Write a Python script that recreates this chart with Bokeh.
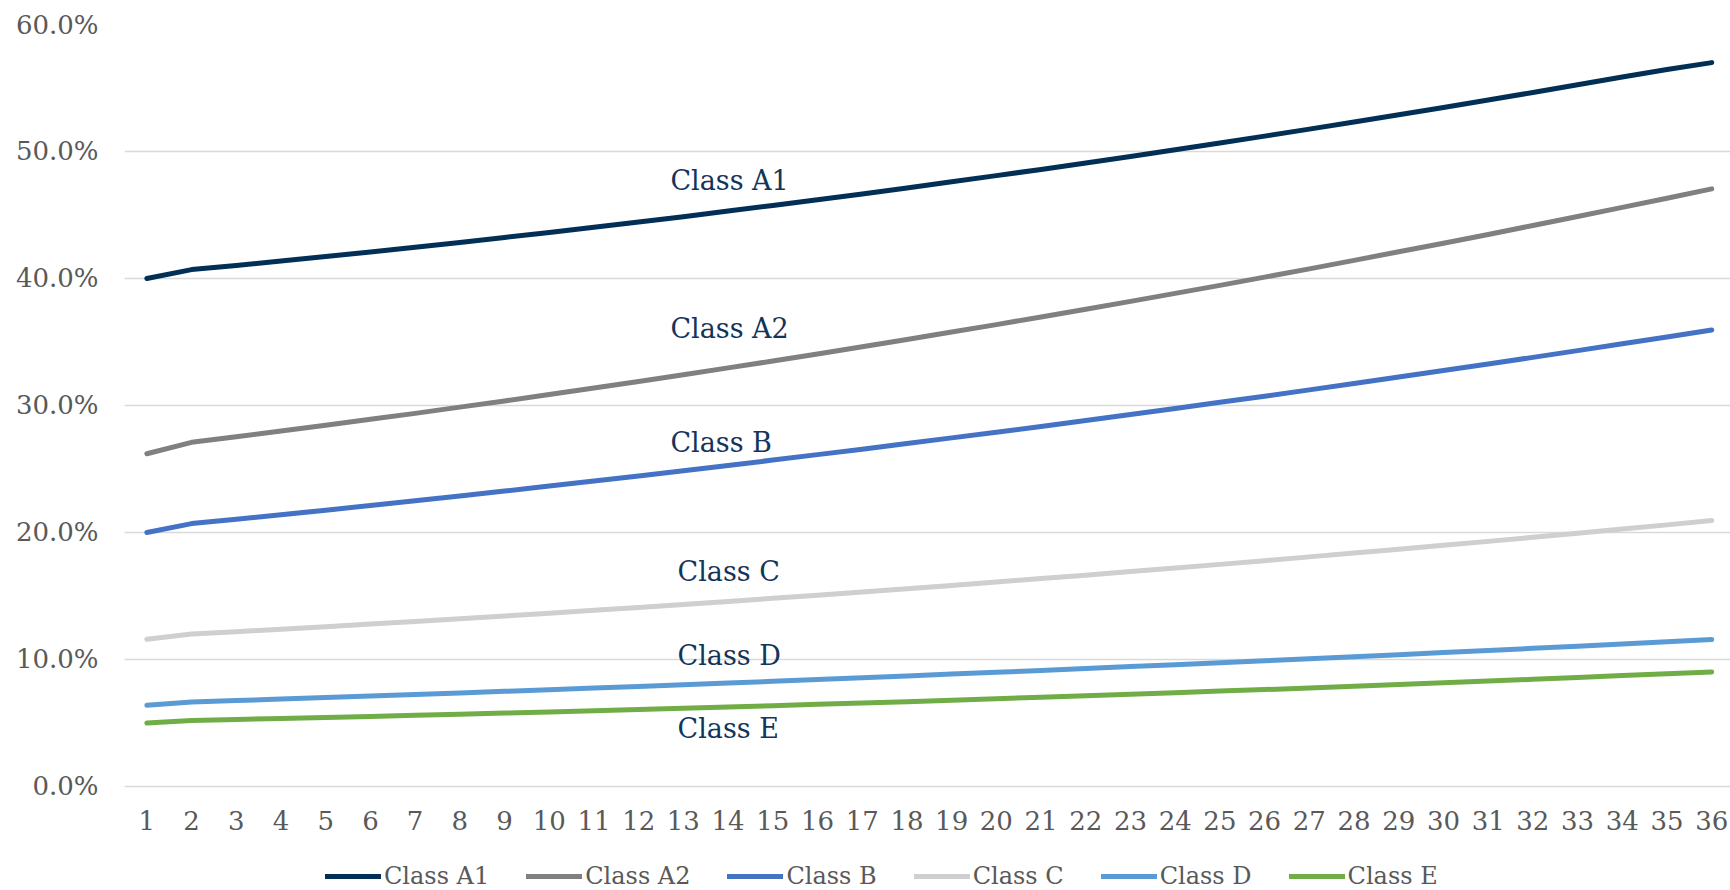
from bokeh.plotting import figure
from bokeh.models import (ColumnDataSource, FixedTicker, PrintfTickFormatter, Legend, LegendItem, Range1d)
from bokeh.core.properties import value
from bokeh.embed import file_html
from bokeh.resources import INLINE

periods = list(range(1, 37))
series_names = ["Class A1", "Class A2", "Class B", "Class C", "Class D", "Class E"]

class_a1 = [40.0, 40.70, 41.03, 41.38, 41.73, 42.09, 42.46, 42.84, 43.23, 43.63, 44.03, 44.45,
            44.87, 45.31, 45.75, 46.20, 46.66, 47.13, 47.61, 48.10, 48.59, 49.10, 49.61, 50.14,
            50.67, 51.21, 51.76, 52.32, 52.89, 53.47, 54.05, 54.65, 55.25, 55.87, 56.45, 57.0]
class_a2 = [26.2, 27.10, 27.54, 27.99, 28.44, 28.91, 29.38, 29.87, 30.36, 30.86, 31.37, 31.89,
            32.42, 32.96, 33.50, 34.06, 34.62, 35.20, 35.78, 36.37, 36.97, 37.58, 38.20, 38.83,
            39.46, 40.11, 40.76, 41.43, 42.10, 42.78, 43.47, 44.17, 44.88, 45.60, 46.32, 47.06]
class_b = [20.0, 20.70, 21.05, 21.40, 21.76, 22.13, 22.50, 22.88, 23.26, 23.66, 24.05, 24.45,
           24.86, 25.28, 25.70, 26.13, 26.56, 27.00, 27.45, 27.90, 28.35, 28.82, 29.29, 29.76,
           30.25, 30.73, 31.23, 31.73, 32.24, 32.75, 33.27, 33.79, 34.32, 34.86, 35.40, 35.95]
class_c = [11.6, 12.00, 12.19, 12.38, 12.58, 12.79, 13.00, 13.21, 13.42, 13.65, 13.87, 14.10,
           14.33, 14.57, 14.82, 15.06, 15.32, 15.57, 15.83, 16.10, 16.37, 16.64, 16.92, 17.20,
           17.49, 17.78, 18.08, 18.38, 18.68, 18.99, 19.30, 19.62, 19.94, 20.27, 20.60, 20.94]
class_d = [6.4, 6.65, 6.77, 6.88, 7.0, 7.12, 7.24, 7.37, 7.49, 7.62, 7.75, 7.88, 8.01, 8.15, 8.28,
           8.42, 8.56, 8.7, 8.85, 8.99, 9.14, 9.29, 9.44, 9.59, 9.75, 9.9, 10.06, 10.22, 10.38, 10.55,
           10.71, 10.88, 11.05, 11.22, 11.39, 11.57]
class_e = [5.0, 5.2, 5.28, 5.35, 5.43, 5.52, 5.6, 5.69, 5.78, 5.87, 5.96, 6.06, 6.16, 6.26, 6.36,
           6.47, 6.57, 6.68, 6.79, 6.91, 7.02, 7.14, 7.26, 7.38, 7.51, 7.63, 7.76, 7.89, 8.03, 8.16,
           8.3, 8.44, 8.58, 8.73, 8.87, 9.02]

y_ticks = [0, 10, 20, 30, 40, 50, 60]
label_x = [12.71, 12.71, 12.71, 12.87, 12.87, 12.87]
label_y = [47.7, 36.1, 27.1, 16.9, 10.3, 4.6]

colors = ["#022f55", "#808080", "#4472c4", "#d0cece", "#5b9bd5", "#70ad47"]
all_series = [class_a1, class_a2, class_b, class_c, class_d, class_e]

FONT = "DejaVu Serif"
GREY_TXT = "#595959"

p = figure(width=1730, height=890, output_backend="svg", toolbar_location=None,
           x_range=Range1d(0.5, 36.42), y_range=Range1d(-8.19, 60),
           min_border_left=124, min_border_right=0, min_border_top=24, min_border_bottom=0)
p.outline_line_color = None
p.background_fill_color = "white"
p.border_fill_color = "white"

items = []
for name, vals, col in zip(series_names, all_series, colors):
    src = ColumnDataSource(dict(x=periods, y=vals))
    r = p.line("x", "y", source=src, line_color=col, line_width=5, line_cap="round", line_join="round")
    items.append(LegendItem(label=name, renderers=[r]))

lab_src = ColumnDataSource(dict(x=label_x, y=label_y, t=series_names))
p.text("x", "y", text="t", source=lab_src, text_font=value(FONT), text_font_size="27px",
       text_color="#12355b", text_align="left", text_baseline="middle")

# axes
p.xaxis.ticker = FixedTicker(ticks=periods)
p.xaxis.fixed_location = 0
p.yaxis.ticker = FixedTicker(ticks=y_ticks)
p.yaxis.formatter = PrintfTickFormatter(format="%.1f%%")
for ax in (p.xaxis[0], p.yaxis[0]):
    ax.axis_line_color = None
    ax.major_tick_line_color = None
    ax.minor_tick_line_color = None
    ax.major_tick_out = 0
    ax.major_tick_in = 0
    ax.minor_tick_out = 0
    ax.major_label_text_font = FONT
    ax.major_label_text_font_size = "26px"
    ax.major_label_text_color = GREY_TXT
p.xaxis.major_label_standoff = 25
p.yaxis.major_label_standoff = 26

p.xgrid.grid_line_color = None
p.ygrid.grid_line_color = "#d9d9d9"
p.ygrid.grid_line_width = 1.5

legend = Legend(items=items, orientation="horizontal", location=(201, 0),
                label_text_font=FONT, label_text_font_size="24px", label_text_color=GREY_TXT,
                glyph_width=56, glyph_height=20, label_height=20, label_standoff=3, spacing=37,
                padding=0, margin=0, border_line_alpha=0, background_fill_alpha=0)
p.add_layout(legend, "center")

open("out.html", "w").write(file_html(p, INLINE))
